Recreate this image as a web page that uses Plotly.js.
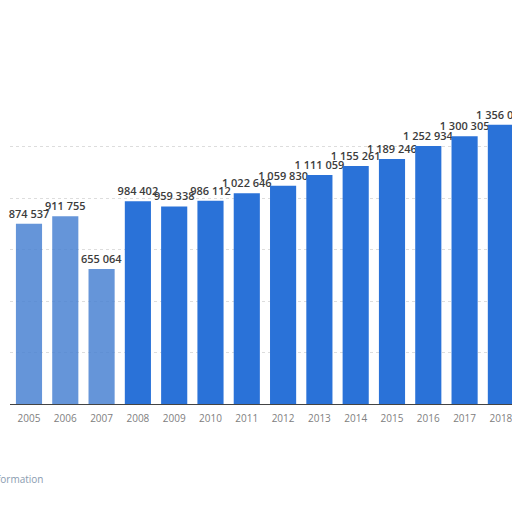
<!DOCTYPE html>
<html>
<head>
<meta charset="utf-8">
<script src="https://cdn.plot.ly/plotly-3.0.1.min.js"></script>
<style>html,body{margin:0;padding:0;background:#fff;} #graph{width:512px;height:512px;}</style>
</head>
<body>
<div id="graph"></div>
<script>
const years = ["2005","2006","2007","2008","2009","2010","2011","2012","2013","2014","2015","2016","2017","2018"];
const visitors = [874537, 911755, 655064, 984402, 959338, 986112, 1022646, 1059830, 1111059, 1155261, 1189246, 1252934, 1300305, 1356000];

// first three bars look washed out in the picture
const bar_colors = years.map((y, i) => i < 3 ? "rgba(74,130,210,0.85)" : "#2a72d8");

const graph_traces = [{
    x: years, y: visitors, type: "bar",
    marker: {color: bar_colors},
    text: visitors, texttemplate: "%{y:,}", textposition: "outside", cliponaxis: false, constraintext: "none",
    textfont: {family: "Open Sans, DejaVu Sans", size: 11, color: "#3c3c3c", weight: 600},
    hoverinfo: "none"
}];

const graph_layout = {
    width: 512, height: 512, margin: {t: 95, l: 10, r: 0, b: 108},
    separators: ". ", bargap: 0.28, showlegend: false,
    paper_bgcolor: "#fff", plot_bgcolor: "#fff",
    xaxis: {type: "category", range: [-0.523, 13.306], showline: true, line: {color: "#555", width: 1.5},
        ticks: "", ticklabelstandoff: 5, tickfont: {family: "Open Sans, DejaVu Sans", size: 10, color: "#808080"}, fixedrange: true},
    yaxis: {range: [0, 1500000], tickvals: [250000, 500000, 750000, 1000000, 1250000], showticklabels: false,
        gridcolor: "#ddd", griddash: "dot", gridwidth: 1, zeroline: false, fixedrange: true},
    annotations: [{xref: "paper", yref: "paper", x: 0.07, y: -0.243, xanchor: "right", yanchor: "middle",
        text: "Additional Information", showarrow: false,
        font: {family: "Open Sans, DejaVu Sans", size: 10, color: "#8a9bb0"}}]
};

Plotly.newPlot('graph', graph_traces, graph_layout, {displayModeBar: false, staticPlot: true});
</script>
</body>
</html>
